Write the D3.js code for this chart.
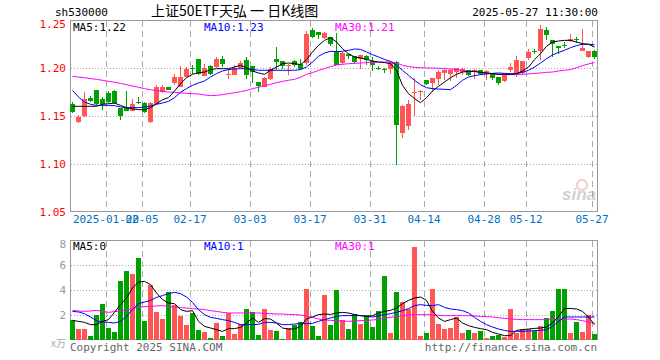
<!DOCTYPE html>
<html><head><meta charset="utf-8">
<script src="https://cdn.jsdelivr.net/npm/d3@7"></script>
<style>body{margin:0;background:#fff}svg{display:block}</style>
</head><body>
<svg id="c" width="660" height="360"></svg>
<script>
const dates=["01-10","01-13","01-14","01-15","01-16","01-17","01-20","01-21","01-22","01-23","01-24","01-27",
"02-05","02-06","02-07","02-10","02-11","02-12","02-13","02-14","02-17","02-18","02-19","02-20","02-21","02-24","02-25","02-26","02-27","02-28",
"03-03","03-04","03-05","03-06","03-07","03-10","03-11","03-12","03-13","03-14","03-17","03-18","03-19","03-20","03-21","03-24","03-25","03-26","03-27","03-28","03-31",
"04-01","04-02","04-03","04-07","04-08","04-09","04-10","04-11","04-14","04-15","04-16","04-17","04-18","04-21","04-22","04-23","04-24","04-25","04-28","04-29","04-30",
"05-06","05-07","05-08","05-09","05-12","05-13","05-14","05-15","05-16","05-19","05-20","05-21","05-22","05-23","05-26","05-27"];
const open=[1.162,1.144,1.150,1.169,1.177,1.168,1.174,1.176,1.158,1.158,
1.155,1.165,1.164,1.144,1.163,1.175,1.180,1.184,1.180,1.191,
1.200,1.209,1.192,1.202,1.201,1.209,1.194,1.193,1.200,1.208,
1.202,1.185,1.180,1.189,1.209,1.207,1.203,1.207,1.204,1.205,
1.240,1.237,1.231,1.232,1.217,1.205,1.215,1.212,1.209,1.213,
1.207,1.200,1.199,1.199,1.206,1.132,1.140,1.1745,1.1755,1.188,
1.184,1.189,1.195,1.194,1.196,1.196,1.198,1.197,1.198,1.194,
1.195,1.191,1.186,1.198,1.194,1.195,1.210,1.218,1.218,1.240,
1.229,1.223,1.224,1.228,1.230,1.218,1.2115,1.218];
const high=[1.165,1.151,1.175,1.171,1.177,1.170,1.176,1.177,1.158,1.176,
1.168,1.170,1.1646,1.1646,1.182,1.182,1.1802,1.194,1.202,1.201,
1.203,1.209,1.2045,1.203,1.211,1.212,1.1993,1.203,1.207,1.2115,
1.2017,1.1854,1.1905,1.201,1.222,1.2066,1.204,1.208,1.209,1.2385,
1.2413,1.2368,1.2375,1.2323,1.2365,1.2167,1.2149,1.2122,1.2132,1.2132,
1.2115,1.2017,1.2003,1.2073,1.2073,1.1611,1.167,1.1899,1.1774,1.1878,
1.1899,1.1976,1.1993,1.1993,1.2003,1.2000,1.1983,1.1993,1.1976,1.1976,
1.1948,1.1906,1.1948,1.2052,1.2122,1.2073,1.2201,1.2201,1.2444,1.2427,
1.2288,1.2226,1.2271,1.2351,1.2323,1.2410,1.2174,1.2191];
const low=[1.153,1.143,1.149,1.1646,1.161,1.156,1.164,1.163,1.1455,1.1552,
1.1552,1.1628,1.1531,1.1427,1.1628,1.174,1.1767,1.1819,1.1802,1.1913,
1.1934,1.1931,1.1913,1.1924,1.2003,1.2010,1.1889,1.1924,1.1993,1.1889,
1.184,1.175,1.180,1.188,1.1976,1.1993,1.1924,1.201,1.1983,1.2028,
1.2316,1.2306,1.2299,1.2226,1.2028,1.2045,1.2097,1.2045,1.1993,1.2035,
1.1969,1.1983,1.1951,1.1934,1.0986,1.1274,1.1351,1.1497,1.1663,1.1819,
1.175,1.1819,1.1872,1.1865,1.1899,1.1924,1.1913,1.1889,1.1924,1.1872,
1.1878,1.1819,1.1854,1.1958,1.1906,1.1924,1.2087,1.2149,1.2087,1.2288,
1.2115,1.2149,1.2212,1.2271,1.2260,1.2184,1.2108,1.2097];
const close=[1.154,1.149,1.168,1.166,1.162,1.162,1.165,1.1635,1.150,1.155,
1.163,1.1645,1.154,1.1635,1.180,1.180,1.177,1.1905,1.191,1.199,
1.1993,1.1934,1.200,1.194,1.209,1.2045,1.1941,1.200,1.205,1.1924,
1.196,1.181,1.190,1.1993,1.2063,1.2017,1.2035,1.2028,1.1993,1.2351,
1.2323,1.234,1.2368,1.2253,1.2028,1.2156,1.2122,1.2063,1.2132,1.2087,
1.2035,1.1998,1.1986,1.2063,1.1403,1.1601,1.1622,1.1750,1.1760,1.1837,
1.1892,1.1958,1.1983,1.1983,1.2000,1.1993,1.1931,1.1976,1.1941,1.1969,
1.1899,1.1844,1.1941,1.2010,1.2080,1.2073,1.2167,1.2177,1.2403,1.2340,
1.2253,1.2208,1.2236,1.2299,1.2299,1.2212,1.2174,1.2115];
const ma5=[1.1601,1.1601,1.1601,1.1601,1.1601,1.1622,1.1628,1.1635,1.1611,1.1587,
1.1576,1.1566,1.1566,1.1587,1.1628,1.1670,1.1691,1.1760,1.1837,1.1899,
1.1934,1.1951,1.1958,1.1983,1.1993,1.1993,1.1993,1.2010,1.2028,1.2003,
1.1969,1.1948,1.1934,1.1976,1.2010,1.2045,1.2052,1.2045,1.2035,1.2087,
1.2167,1.2236,1.2288,1.2316,1.2271,1.2201,1.2149,1.2115,1.2104,1.2090,
1.2073,1.2063,1.2056,1.2045,1.1976,1.1819,1.1733,1.1681,1.1639,1.1691,
1.1760,1.1809,1.1854,1.1899,1.1934,1.1958,1.1965,1.1965,1.1955,1.1948,
1.1941,1.1934,1.1934,1.1934,1.1941,1.1969,1.2010,1.2087,1.2149,1.2226,
1.2271,1.2281,1.2288,1.2288,1.2271,1.2253,1.2247,1.2219];
const ma10=[1.1767,1.1698,1.1646,1.1622,1.1611,1.1611,1.1611,1.1608,1.1594,1.1587,
1.1587,1.1587,1.1594,1.1604,1.1622,1.1635,1.1653,1.1691,1.1747,1.1785,
1.1819,1.1844,1.1865,1.1906,1.1941,1.1969,1.1983,1.1990,1.1993,1.1993,
1.1986,1.1976,1.1976,1.1976,1.1976,1.1976,1.1976,1.1976,1.1983,1.2010,
1.2063,1.2122,1.2156,1.2174,1.2170,1.2174,1.2184,1.2198,1.2194,1.2167,
1.2139,1.2115,1.2090,1.2069,1.2028,1.1976,1.1924,1.1872,1.1826,1.1795,
1.1785,1.1781,1.1778,1.1774,1.1819,1.1872,1.1906,1.1920,1.1931,1.1938,
1.1944,1.1948,1.1944,1.1941,1.1941,1.1955,1.1976,1.2010,1.2052,1.2097,
1.2135,1.2163,1.2184,1.2212,1.2233,1.2247,1.2247,1.2243];
const ma30=[1.1913,1.1906,1.1899,1.1889,1.1882,1.1872,1.1861,1.1851,1.1840,1.1826,
1.1813,1.1799,1.1785,1.1774,1.1764,1.1757,1.1750,1.1747,1.1740,1.1736,
1.1733,1.1729,1.1719,1.1712,1.1715,1.1722,1.1733,1.1743,1.1753,1.1767,
1.1785,1.1799,1.1816,1.1830,1.1847,1.1861,1.1872,1.1882,1.1903,1.1934,
1.1951,1.1976,1.1993,1.2014,1.2031,1.2038,1.2045,1.2049,1.2052,1.2056,
1.2059,1.2059,1.2063,1.2063,1.2052,1.2028,1.2014,1.2007,1.2003,1.2000,
1.2000,1.1997,1.1993,1.1990,1.1983,1.1976,1.1969,1.1962,1.1955,1.1948,
1.1941,1.1934,1.1931,1.1931,1.1931,1.1934,1.1938,1.1944,1.1948,1.1955,
1.1958,1.1969,1.1976,1.1983,1.2003,1.2024,1.2042,1.2056];
const volume=[1.63,0.91,0.91,0.35,2.03,2.90,0.99,0.67,4.75,5.55,
5.30,6.59,1.55,4.43,2.27,1.71,3.87,2.83,1.95,1.23,
2.19,0.83,0.67,0.19,1.39,0.35,2.19,0.51,1.31,2.51,
2.27,0.43,2.51,0.83,0.75,0.11,0.99,1.23,1.47,4.11,
1.15,0.35,3.63,1.23,4.03,1.63,0.91,2.11,1.31,2.03,
1.07,2.35,5.15,0.59,3.87,3.07,2.51,7.47,0.35,0.59,
4.11,1.31,0.91,0.99,1.87,0.59,0.83,0.59,0.75,0.19,
0.35,0.43,0.27,2.51,0.59,0.91,0.91,0.75,1.15,1.79,
2.35,4.11,4.11,0.59,1.47,0.67,2.03,0.51];
const vma5=[1.57,1.49,1.41,1.23,1.23,1.49,1.63,2.21,2.83,3.36,
4.16,4.64,4.69,4.43,3.76,3.23,2.96,2.91,2.43,2.29,
2.35,1.49,1.09,0.96,0.83,0.69,0.91,0.91,1.01,1.36,
1.76,1.41,1.71,1.68,1.36,0.96,0.88,0.88,1.09,1.68,
1.84,2.03,2.08,2.05,2.16,2.21,2.16,2.03,1.95,1.89,
1.95,2.16,2.29,2.37,2.56,2.91,3.17,3.36,3.44,3.17,
2.29,1.76,1.49,1.63,1.76,1.36,1.15,1.01,0.91,0.83,
0.61,0.48,0.35,0.35,0.77,0.83,0.88,0.93,0.96,1.04,
1.36,1.89,2.51,2.53,2.48,2.29,1.84,1.23];
const vma10=[2.29,2.24,2.11,1.84,1.55,1.44,1.41,1.36,1.49,1.89,
2.43,2.91,3.04,3.17,3.41,3.55,3.71,3.81,3.71,3.44,
3.01,2.43,2.03,1.81,1.73,1.63,1.55,1.41,1.23,1.23,
1.23,1.25,1.41,1.41,1.36,1.23,1.23,1.28,1.31,1.31,
1.33,1.49,1.63,1.76,1.89,1.95,1.95,1.95,1.95,1.89,
1.84,1.95,2.03,2.11,2.21,2.35,2.51,2.75,2.83,2.77,
2.75,2.83,2.61,2.48,2.43,2.35,2.16,1.81,1.49,1.23,
1.04,0.88,0.77,0.69,0.69,0.69,0.72,0.75,0.77,0.83,
1.09,1.49,1.84,1.84,1.84,1.84,1.84,1.84];
const vma30=[2.37,2.32,2.29,2.32,2.37,2.29,2.21,2.27,2.32,2.40,
2.51,2.61,2.67,2.69,2.72,2.75,2.69,2.64,2.59,2.56,
2.51,2.48,2.43,2.35,2.29,2.21,2.16,2.16,2.16,2.16,
2.16,2.16,2.13,2.11,2.08,2.08,2.05,2.03,2.00,1.92,
1.81,1.68,1.60,1.57,1.55,1.52,1.49,1.52,1.55,1.57,
1.60,1.65,1.73,1.81,1.87,1.95,2.00,2.03,2.03,2.03,
2.00,1.97,1.95,1.95,1.95,1.95,1.95,1.92,1.89,1.87,
1.84,1.79,1.73,1.68,1.65,1.63,1.63,1.63,1.63,1.63,
1.63,1.60,1.65,1.68,1.63,1.55,1.44,1.31];
const tickDates=["01-20","02-05","02-17","03-03","03-17","03-31","04-14","04-28","05-12","05-27"];
const tickLabels=["2025-01-20","02-05","02-17","03-03","03-17","03-31","04-14","04-28","05-12","05-27"];
const priceTicks=[1.05,1.10,1.15,1.20,1.25];
const volTicks=[2,4,6,8];
const legendMain=["MA5:1.22","MA10:1.23","MA30:1.21"];
const legendVol=["MA5:0","MA10:1","MA30:1"];

const RED="#ff5555",GREEN="#00a000",GRID="#aaaaaa",BORDER="#999999";
const MONO="'DejaVu Sans Mono','Liberation Mono',monospace";
const svg=d3.select("#c");
const L=70,R=598,T1=20,B1=212,T2=240,B2=340;
const x=d3.scaleBand().domain(dates).range([L,R]).paddingInner(0).paddingOuter(0);
const y=d3.scaleLinear().domain([1.05,1.25]).range([B1,T1]);
const yv=d3.scaleLinear().domain([0,8]).range([B2,T2]);
const cx=d=>x(d)+2.5;

// header
svg.append("text").attr("x",55).attr("y",16).attr("font-family",MONO).attr("font-size",11).text("sh530000");
svg.append("text").attr("x",151).attr("y",16).attr("font-family","'Noto Sans CJK SC',sans-serif").attr("font-size",14).text("上证50ETF天弘 一 日K线图");
svg.append("text").attr("x",598).attr("y",16).attr("text-anchor","end").attr("font-family",MONO).attr("font-size",11).text("2025-05-27 11:30:00");

function frame(top,bot){
  svg.append("rect").attr("x",L+0.5).attr("y",top+0.5).attr("width",R-L-1).attr("height",bot-top-1)
    .attr("fill","none").attr("stroke",BORDER);
  svg.append("g").selectAll("line").data(tickDates).join("line")
    .attr("x1",d=>x(d)+0.5).attr("x2",d=>x(d)+0.5).attr("y1",top+1).attr("y2",bot-1)
    .attr("stroke",GRID).attr("stroke-dasharray","6,4").attr("shape-rendering","crispEdges");
}
frame(T1,B1);
svg.append("g").selectAll("line").data(priceTicks.filter(v=>v>1.05&&v<1.25)).join("line")
  .attr("x1",L+1).attr("x2",R-1).attr("y1",d=>Math.round(y(d))+0.5).attr("y2",d=>Math.round(y(d))+0.5)
  .attr("stroke",GRID).attr("stroke-dasharray","1,2").attr("shape-rendering","crispEdges");
svg.append("g").selectAll("text").data(priceTicks).join("text")
  .attr("x",66).attr("y",d=>Math.max(y(d),24)+4).attr("text-anchor","end")
  .attr("font-family",MONO).attr("font-size",11).attr("fill","#ff0000").text(d=>d.toFixed(2));
svg.append("g").selectAll("text").data(tickDates).join("text")
  .attr("x",d=>x(d)).attr("y",223).attr("text-anchor","middle")
  .attr("font-family",MONO).attr("font-size",11).attr("fill","#0070c0").text((d,i)=>tickLabels[i]);

// sina watermark
const wm=svg.append("g").attr("opacity",0.45);
wm.append("circle").attr("cx",582).attr("cy",185).attr("r",5).attr("fill","none").attr("stroke","#d88").attr("stroke-width",2);
wm.append("text").attr("x",596).attr("y",200).attr("text-anchor","end").attr("font-family","Arial,sans-serif")
  .attr("font-style","italic").attr("font-weight","bold").attr("font-size",17).attr("fill","#999").text("sina");

// candles
const idx=d3.range(dates.length);
const cg=svg.append("g").attr("shape-rendering","crispEdges");
cg.selectAll("rect.w").data(idx).join("rect").attr("class","w")
  .attr("x",i=>x(dates[i])+2).attr("width",1)
  .attr("y",i=>y(high[i])).attr("height",i=>Math.max(1,y(low[i])-y(high[i])))
  .attr("fill",i=>close[i]>=open[i]?RED:GREEN);
cg.selectAll("rect.b").data(idx).join("rect").attr("class","b")
  .attr("x",i=>x(dates[i])).attr("width",5)
  .attr("y",i=>y(Math.max(open[i],close[i]))).attr("height",i=>Math.max(1,Math.abs(y(open[i])-y(close[i]))))
  .attr("fill",i=>close[i]>=open[i]?RED:GREEN);

function maLine(arr,sc,col){
  svg.append("path").datum(idx).attr("fill","none").attr("stroke",col).attr("stroke-width",1)
    .attr("d",d3.line().x(i=>cx(dates[i])).y(i=>sc(arr[i])));
}
maLine(ma30,y,"#ff00ff");maLine(ma10,y,"#0000ff");maLine(ma5,y,"#000000");

const legX=[73,204,335],legC=["#000","#0000ff","#ff00ff"];
legendMain.forEach((t,i)=>svg.append("text").attr("x",legX[i]).attr("y",31).attr("font-family",MONO).attr("font-size",11).attr("fill",legC[i]).text(t));

// volume
frame(T2,B2);
svg.append("g").selectAll("line").data(volTicks.filter(v=>v<8)).join("line")
  .attr("x1",L+1).attr("x2",R-1).attr("y1",d=>Math.round(yv(d))+0.5).attr("y2",d=>Math.round(yv(d))+0.5)
  .attr("stroke",GRID).attr("stroke-dasharray","1,2").attr("shape-rendering","crispEdges");
svg.append("g").selectAll("text").data(volTicks).join("text")
  .attr("x",66).attr("y",d=>Math.max(yv(d),244)+4).attr("text-anchor","end")
  .attr("font-family",MONO).attr("font-size",11).attr("fill","#999").text(d=>d);
svg.append("text").attr("x",66).attr("y",347).attr("text-anchor","end").attr("font-family","'Noto Sans CJK SC',sans-serif")
  .attr("font-size",10).attr("fill","#aaa").text("x万");
svg.append("g").attr("shape-rendering","crispEdges").selectAll("rect").data(idx).join("rect")
  .attr("x",i=>x(dates[i])).attr("width",5)
  .attr("y",i=>yv(volume[i])).attr("height",i=>B2-yv(volume[i]))
  .attr("fill",i=>close[i]>=open[i]?RED:GREEN);
maLine(vma30,yv,"#ff00ff");maLine(vma10,yv,"#0000ff");maLine(vma5,yv,"#000000");
legendVol.forEach((t,i)=>svg.append("text").attr("x",legX[i]).attr("y",250).attr("font-family",MONO).attr("font-size",11).attr("fill",legC[i]).text(t));

// footer
svg.append("text").attr("x",70).attr("y",351).attr("font-family",MONO).attr("font-size",11).attr("fill","#666").text("Copyright 2025 SINA.COM");
svg.append("text").attr("x",597).attr("y",351).attr("text-anchor","end").attr("font-family",MONO).attr("font-size",11).attr("fill","#666").text("http://finance.sina.com.cn");
</script>
</body></html>
